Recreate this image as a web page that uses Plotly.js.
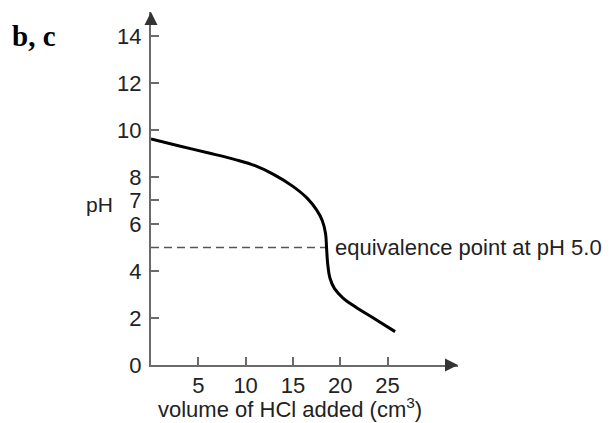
<!DOCTYPE html>
<html>
<head>
<meta charset="utf-8">
<script src="https://cdn.plot.ly/plotly-3.0.1.min.js"></script>
<style>html,body{margin:0;padding:0;background:#fff;} #chart{width:614px;height:423px;}</style>
</head>
<body>
<div id="chart"></div>
<script>
// Titration curve
const volume = [0, 3, 6, 9, 11, 13, 15, 16.5, 17.5, 18.1, 18.45, 18.56, 18.67, 18.92, 19.4, 20.3, 21.7, 23.5, 25.8];
const pH     = [9.62, 9.32, 9.03, 8.73, 8.48, 8.1, 7.6, 7.1, 6.6, 6.15, 5.6, 4.96, 4.33, 3.69, 3.25, 2.85, 2.45, 2.0, 1.42];
const equivVolume = [0, 18.56];
const equivPH = [5.0, 5.0];
const xTicks = [5, 10, 15, 20, 25];
const yTicks = [0, 2, 4, 6, 7, 8, 10, 12, 14];
const labels = {
  panel: 'b, c',
  yTitle: 'pH',
  xTitle: 'volume of HCl added (cm<sup>3</sup>)',
  equiv: 'equivalence point at pH 5.0'
};

const axisColor = '#6a6a6a';
const fontFamily = 'Liberation Sans, Arial, sans-serif';

const traces = [
  {x: equivVolume, y: equivPH, mode: 'lines', line: {color: '#555', width: 1.5, dash: '8px,5px'}, hoverinfo: 'skip'},
  {x: volume, y: pH, mode: 'lines', line: {color: '#000', width: 3, shape: 'spline', smoothing: 1}, hoverinfo: 'skip'}
];

const xMax = 32.45, yMax = 15.02;

const layout = {
  width: 614, height: 423,
  margin: {l: 151, r: 156, t: 12, b: 58, pad: 0},
  paper_bgcolor: '#fff', plot_bgcolor: '#fff',
  showlegend: false,
  xaxis: {
    range: [0, xMax], showgrid: false, zeroline: false,
    showline: true, linecolor: axisColor, linewidth: 2,
    ticks: 'inside', ticklen: 8, tickwidth: 2, tickcolor: axisColor,
    tickvals: xTicks, ticktext: xTicks.map(String),
    tickfont: {family: fontFamily, size: 22, color: '#222'}, ticklabelstandoff: 0
  },
  yaxis: {
    range: [0, yMax], showgrid: false, zeroline: false,
    showline: true, linecolor: axisColor, linewidth: 2,
    ticks: 'inside', ticklen: 8, tickwidth: 2, tickcolor: axisColor,
    tickvals: yTicks, ticktext: yTicks.map(String),
    tickfont: {family: fontFamily, size: 22, color: '#222'}, ticklabelstandoff: 3
  },
  annotations: [
    {x: 0, y: yMax, xref: 'x', yref: 'y', ax: 0, ay: 14, showarrow: true, arrowhead: 2, arrowsize: 1.3, arrowwidth: 2, arrowcolor: '#333', text: ''},
    {x: xMax, y: 0, xref: 'x', yref: 'y', ax: -14, ay: 0, showarrow: true, arrowhead: 2, arrowsize: 1.3, arrowwidth: 2, arrowcolor: '#333', text: ''},
    {x: 0, y: 7, xref: 'x', yref: 'y', xanchor: 'right', yanchor: 'middle', xshift: -36, yshift: -4, showarrow: false, text: labels.yTitle, font: {family: fontFamily, size: 21, color: '#222'}},
    {x: 19.2, y: 5, xref: 'x', yref: 'y', xanchor: 'left', yanchor: 'middle', showarrow: false, text: labels.equiv, font: {family: fontFamily, size: 22, color: '#222'}},
    {x: 14.7, y: 0, xref: 'x', yref: 'y', xanchor: 'center', yanchor: 'top', yshift: -27, showarrow: false, text: labels.xTitle, font: {family: fontFamily, size: 22, color: '#222'}},
    {x: 0, y: 1, xref: 'paper', yref: 'paper', xanchor: 'left', yanchor: 'top', xshift: -141, yshift: -6, showarrow: false, text: '<b>' + labels.panel + '</b>', font: {family: 'Liberation Serif, Times New Roman, serif', size: 29, color: '#000'}}
  ]
};

Plotly.newPlot('chart', traces, layout, {staticPlot: true, displayModeBar: false});
</script>
</body>
</html>
